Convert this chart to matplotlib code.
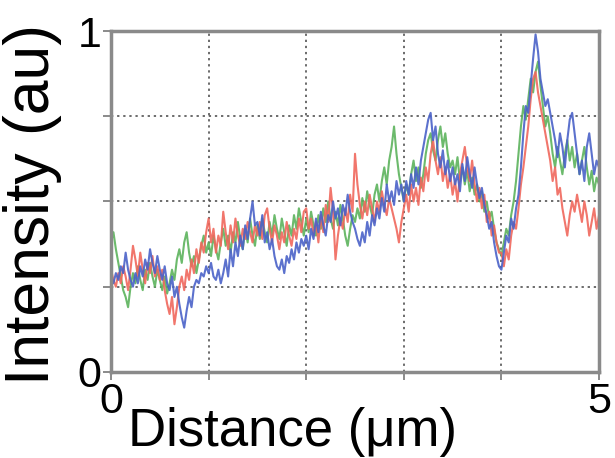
import numpy as np
import matplotlib
matplotlib.use("Agg")
import matplotlib.pyplot as plt

# Intensity profiles along a 5 µm line, sampled every 25 nm
distance = np.linspace(0, 5, 201)

blue = [
    0.28, 0.26, 0.29, 0.27, 0.31, 0.29, 0.35, 0.30, 0.27, 0.25, 0.29, 0.26, 0.31, 0.28, 0.33, 0.30, 0.36, 0.32, 0.29, 0.34,
    0.30, 0.27, 0.31, 0.26, 0.24, 0.28, 0.22, 0.25, 0.20, 0.16, 0.13, 0.18, 0.22, 0.19, 0.25, 0.27, 0.26, 0.29, 0.28, 0.31,
    0.29, 0.32, 0.28, 0.27, 0.30, 0.26, 0.29, 0.33, 0.28, 0.36, 0.31, 0.38, 0.34, 0.40, 0.36, 0.43, 0.39, 0.45, 0.50, 0.43,
    0.44, 0.40, 0.46, 0.38, 0.41, 0.36, 0.39, 0.34, 0.31, 0.30, 0.33, 0.29, 0.34, 0.32, 0.36, 0.33, 0.38, 0.35, 0.39, 0.37,
    0.40, 0.36, 0.42, 0.39, 0.45, 0.41, 0.47, 0.43, 0.40, 0.46, 0.44, 0.50, 0.45, 0.48, 0.43, 0.49, 0.46, 0.52, 0.47, 0.44,
    0.42, 0.39, 0.37, 0.41, 0.38, 0.44, 0.40, 0.46, 0.43, 0.48, 0.45, 0.51, 0.47, 0.55, 0.50, 0.53, 0.49, 0.56, 0.52, 0.55,
    0.50, 0.56, 0.52, 0.58, 0.54, 0.60, 0.55, 0.62, 0.66, 0.70, 0.74, 0.76, 0.68, 0.72, 0.64, 0.60, 0.65, 0.58, 0.62, 0.56,
    0.60, 0.55, 0.58, 0.53, 0.61, 0.56, 0.63, 0.58, 0.54, 0.60, 0.55, 0.51, 0.54, 0.49, 0.46, 0.42, 0.44, 0.38, 0.34, 0.31,
    0.30, 0.35, 0.40, 0.38, 0.45, 0.42, 0.48, 0.52, 0.60, 0.70, 0.78, 0.76, 0.84, 0.92, 0.99, 0.94, 0.86, 0.82, 0.78, 0.80,
    0.76, 0.72, 0.68, 0.63, 0.70, 0.66, 0.60, 0.68, 0.74, 0.76, 0.70, 0.64, 0.58, 0.62, 0.56, 0.66, 0.70, 0.64, 0.58, 0.62,
    0.60,
]

red = [
    0.30, 0.27, 0.25, 0.29, 0.26, 0.31, 0.28, 0.24, 0.30, 0.37, 0.33, 0.28, 0.35, 0.30, 0.26, 0.32, 0.29, 0.34, 0.28, 0.31,
    0.27, 0.30, 0.24, 0.20, 0.17, 0.22, 0.14, 0.19, 0.25, 0.28, 0.24, 0.30, 0.27, 0.33, 0.29, 0.36, 0.32, 0.38, 0.35, 0.41,
    0.45, 0.38, 0.42, 0.35, 0.40, 0.37, 0.47, 0.41, 0.36, 0.43, 0.38, 0.45, 0.40, 0.37, 0.42, 0.39, 0.44, 0.41, 0.38, 0.43,
    0.40, 0.44, 0.39, 0.46, 0.48, 0.42, 0.38, 0.43, 0.40, 0.36, 0.41, 0.38, 0.44, 0.40, 0.37, 0.42, 0.39, 0.45, 0.41, 0.47,
    0.48, 0.42, 0.45, 0.40, 0.44, 0.38, 0.46, 0.41, 0.49, 0.44, 0.54, 0.47, 0.33, 0.40, 0.45, 0.42, 0.48, 0.44, 0.52, 0.47,
    0.64, 0.55, 0.49, 0.45, 0.50, 0.46, 0.52, 0.48, 0.44, 0.50, 0.47, 0.53, 0.49, 0.46, 0.51, 0.48, 0.45, 0.42, 0.38, 0.44,
    0.48, 0.52, 0.47, 0.55, 0.50, 0.54, 0.49, 0.57, 0.53, 0.60, 0.56, 0.64, 0.68, 0.62, 0.58, 0.63, 0.56, 0.60, 0.54, 0.58,
    0.52, 0.56, 0.50, 0.58, 0.62, 0.66, 0.60, 0.56, 0.62, 0.55, 0.50, 0.54, 0.48, 0.52, 0.44, 0.47, 0.40, 0.43, 0.38, 0.35,
    0.35, 0.31, 0.36, 0.33, 0.40, 0.44, 0.42, 0.48, 0.55, 0.60, 0.66, 0.72, 0.80, 0.86, 0.88, 0.82, 0.78, 0.74, 0.70, 0.66,
    0.62, 0.56, 0.60, 0.52, 0.54, 0.48, 0.44, 0.40, 0.46, 0.50, 0.47, 0.52, 0.48, 0.44, 0.50, 0.46, 0.40, 0.44, 0.48, 0.42,
    0.46,
]

green = [
    0.38, 0.41, 0.36, 0.32, 0.28, 0.24, 0.22, 0.19, 0.25, 0.29, 0.26, 0.31, 0.27, 0.24, 0.30, 0.27, 0.32, 0.28, 0.25, 0.30,
    0.27, 0.24, 0.28, 0.23, 0.26, 0.30, 0.27, 0.33, 0.36, 0.32, 0.38, 0.41, 0.35, 0.31, 0.34, 0.29, 0.33, 0.37, 0.40, 0.35,
    0.38, 0.34, 0.40, 0.36, 0.33, 0.38, 0.42, 0.37, 0.40, 0.35, 0.41, 0.38, 0.44, 0.39, 0.36, 0.42, 0.38, 0.45, 0.40, 0.37,
    0.43, 0.39, 0.45, 0.41, 0.38, 0.44, 0.40, 0.46, 0.42, 0.39, 0.45, 0.41, 0.37, 0.43, 0.40, 0.46, 0.42, 0.48, 0.44, 0.40,
    0.45, 0.41, 0.47, 0.43, 0.40, 0.46, 0.42, 0.48, 0.44, 0.50, 0.45, 0.42, 0.47, 0.43, 0.49, 0.45, 0.40, 0.37, 0.42, 0.46,
    0.44, 0.48, 0.45, 0.51, 0.47, 0.53, 0.49, 0.46, 0.52, 0.55, 0.50, 0.56, 0.60, 0.55, 0.62, 0.66, 0.72, 0.64, 0.58, 0.54,
    0.50, 0.55, 0.52, 0.58, 0.62, 0.56, 0.60, 0.54, 0.58, 0.64, 0.68, 0.70, 0.65, 0.62, 0.68, 0.72, 0.66, 0.70, 0.64, 0.60,
    0.62, 0.58, 0.63, 0.56, 0.60, 0.55, 0.59, 0.53, 0.57, 0.52, 0.55, 0.50, 0.53, 0.47, 0.50, 0.45, 0.47, 0.42, 0.38, 0.36,
    0.34, 0.38, 0.42, 0.40, 0.46, 0.50, 0.56, 0.64, 0.72, 0.78, 0.74, 0.80, 0.86, 0.82, 0.88, 0.91, 0.84, 0.78, 0.72, 0.75,
    0.70, 0.64, 0.60, 0.66, 0.62, 0.58, 0.64, 0.68, 0.62, 0.66, 0.60, 0.64, 0.58, 0.62, 0.66, 0.60, 0.55, 0.59, 0.53, 0.57,
    0.55,
]

x_ticks = [0, 1, 2, 3, 4, 5]
x_tick_labels = ["0", "", "", "", "", "5"]
y_ticks = [0, 0.25, 0.5, 0.75, 1]
y_tick_labels = ["0", "", "", "", "1"]

plt.rcParams["font.family"] = ["Liberation Sans", "DejaVu Sans"]

fig = plt.figure(figsize=(6.15, 4.58), dpi=100)
ax = fig.add_axes([0.1805, 0.1878, 0.7935, 0.7445])

ax.plot(distance, green, color="#5cb35c", lw=1.5, alpha=0.9)
ax.plot(distance, red, color="#f0675c", lw=1.5, alpha=0.9)
ax.plot(distance, blue, color="#4a62c8", lw=1.5, alpha=0.9)

ax.set_xlim(0, 5)
ax.set_ylim(0, 1)
ax.set_xticks(x_ticks)
ax.set_xticklabels(x_tick_labels)
ax.set_yticks(y_ticks)
ax.set_yticklabels(y_tick_labels)

ax.grid(True, linestyle=(0, (1.5, 2.5)), color="#444444", linewidth=1.1)
ax.tick_params(axis="both", direction="out", length=6, width=1.2,
               color="#777777", labelsize=31, pad=1)

for s in ax.spines.values():
    s.set_color("#8a8a8a")
    s.set_linewidth(2.5)

ax.set_xlabel("Distance (μm)", fontsize=38)
ax.set_ylabel("Intensity (au)", fontsize=45)
ax.xaxis.set_label_coords(0.371, -0.102)
ax.yaxis.set_label_coords(-0.10, 0.49)

fig.savefig("out.png", dpi=100)
